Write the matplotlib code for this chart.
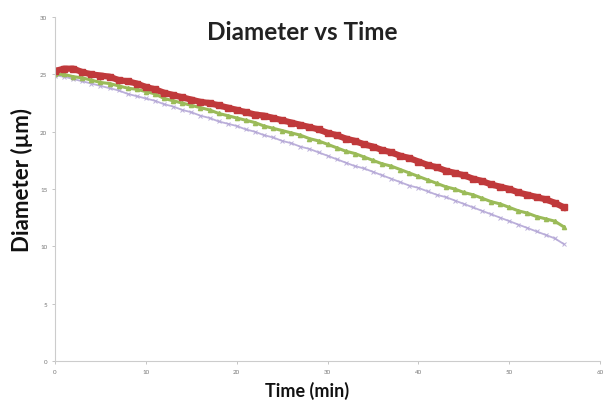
import numpy as np
import matplotlib
matplotlib.use("Agg")
import matplotlib.pyplot as plt

# time in minutes, diameters in micrometres
time_min = np.arange(0, 57)

red_diam = [25.3, 25.5, 25.5, 25.2, 25.0, 24.9, 24.8, 24.5, 24.4, 24.2,
            23.9, 23.7, 23.4, 23.2, 23.0, 22.8, 22.6, 22.5, 22.3, 22.1,
            21.9, 21.7, 21.5, 21.4, 21.2, 21.0, 20.8, 20.6, 20.4, 20.2,
            19.9, 19.7, 19.4, 19.2, 18.9, 18.7, 18.4, 18.2, 17.9, 17.7,
            17.4, 17.1, 16.9, 16.6, 16.4, 16.2, 15.9, 15.7, 15.4, 15.2,
            15.0, 14.7, 14.5, 14.3, 14.1, 13.8, 13.4]

green_diam = [25.0, 25.0, 24.8, 24.7, 24.5, 24.3, 24.2, 24.0, 23.8, 23.7,
              23.5, 23.3, 22.9, 22.7, 22.5, 22.3, 22.1, 21.9, 21.6, 21.4,
              21.2, 21.0, 20.8, 20.5, 20.3, 20.1, 19.9, 19.7, 19.4, 19.2,
              18.9, 18.6, 18.3, 18.1, 17.8, 17.5, 17.2, 17.0, 16.7, 16.4,
              16.1, 15.8, 15.5, 15.2, 15.0, 14.7, 14.5, 14.2, 13.9, 13.7,
              13.4, 13.1, 12.9, 12.6, 12.4, 12.2, 11.7]

purple_diam = [24.9, 24.8, 24.6, 24.4, 24.2, 24.0, 23.8, 23.6, 23.3, 23.1,
               22.9, 22.7, 22.4, 22.2, 21.9, 21.7, 21.4, 21.2, 20.9, 20.7,
               20.5, 20.2, 20.0, 19.7, 19.5, 19.2, 19.0, 18.7, 18.5, 18.2,
               17.9, 17.6, 17.3, 17.0, 16.8, 16.5, 16.2, 15.9, 15.6, 15.3,
               15.1, 14.8, 14.5, 14.3, 14.0, 13.7, 13.4, 13.1, 12.8, 12.5,
               12.2, 11.9, 11.6, 11.3, 11.0, 10.7, 10.2]

x_ticks = [0, 10, 20, 30, 40, 50, 60]
y_ticks = [0, 5, 10, 15, 20, 25, 30]

plt.rcParams['font.family'] = ['Lato', 'DejaVu Sans']

fig = plt.figure(figsize=(6.05, 4.02), dpi=100)
ax = fig.add_axes([0.091, 0.0995, 0.901, 0.8555])

ax.plot(time_min, purple_diam, color='#B4A7D6', marker='x', markersize=2.5,
        markeredgewidth=0.7, linewidth=1.3, alpha=0.9)
ax.plot(time_min, green_diam, color='#9BBB59', marker='^', markersize=3,
        linewidth=2.2)
ax.plot(time_min, red_diam, color='#C0393B', marker='s', markersize=4,
        linewidth=4.5)

ax.set_xlim(0, 60)
ax.set_ylim(0, 30)
ax.set_xticks(x_ticks)
ax.set_yticks(y_ticks)
ax.tick_params(labelsize=4.5, labelcolor='#777777', color='#BBBBBB',
               length=2, width=0.6)

for side in ['top', 'right']:
    ax.spines[side].set_visible(False)
for side in ['left', 'bottom']:
    ax.spines[side].set_color('#CCCCCC')
    ax.spines[side].set_linewidth(0.8)

fig.text(0.5, 0.92, 'Diameter vs Time', ha='center', va='center',
         fontsize=17.5, fontweight='bold', color='#222222')
fig.text(0.037, 0.552, 'Diameter (\u00b5m)', ha='center', va='center',
         rotation=90, fontsize=16, fontweight='bold', color='#111111')
fig.text(0.508, 0.005, 'Time (min)', ha='center', va='bottom',
         fontsize=13, fontweight='bold', color='#111111')

fig.savefig('out.png', dpi=100)
